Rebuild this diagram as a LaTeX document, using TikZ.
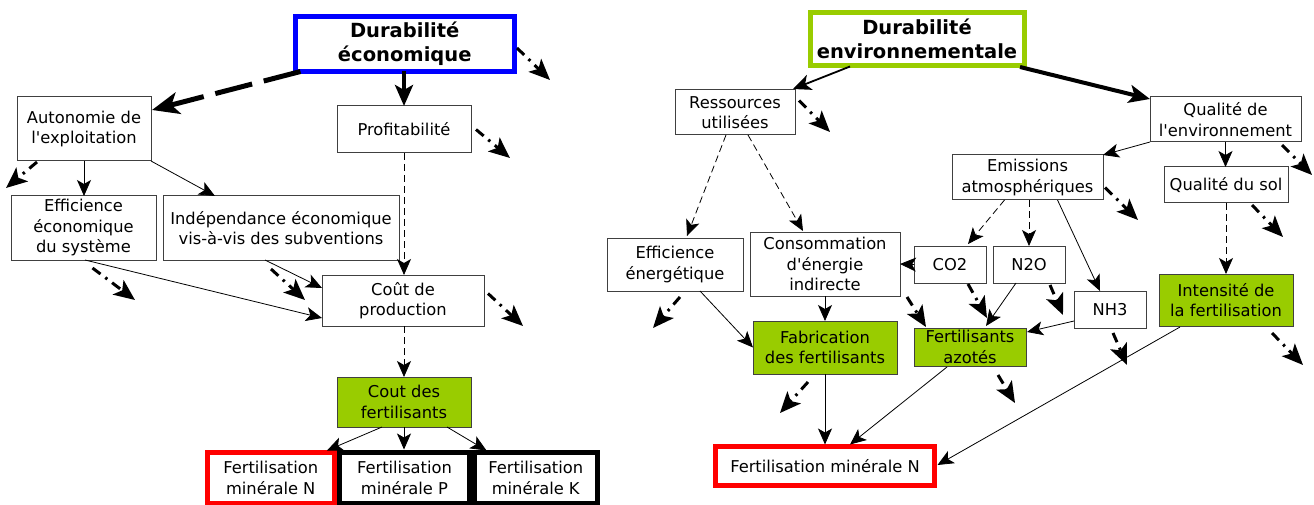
\documentclass[tikz,border=0pt]{standalone}
\usepackage{fontspec}
\usetikzlibrary{arrows.meta,calc}
\newfontfamily\bxfont{DejaVu Sans}
\definecolor{fgreen}{RGB}{153,204,0}
\tikzset{
  box/.style={draw=black!75, line width=1pt, fill=white, inner sep=0pt, outer sep=0pt, align=center, text=black,
    font=\bxfont\fontsize{16.3}{20.5}\selectfont},
  gbox/.style={box, fill=fgreen},
  titlebox/.style={box, line width=5pt, font=\bxfont\bfseries\fontsize{19.5}{24}\selectfont},
  heavybox/.style={box, line width=5pt, draw=black},
  arr/.style={-{Stealth[length=16pt,width=14pt,inset=4pt]}, line width=0.8pt, draw=black},
  medarr/.style={-{Stealth[length=18pt,width=16pt,inset=5pt]}, line width=1.8pt, draw=black},
  thickarr/.style={-{Stealth[length=21pt,width=18pt,inset=5pt]}, line width=4pt, draw=black},
  darr/.style={arr, dash pattern=on 7pt off 4pt},
  thickdash/.style={-{Stealth[length=27pt,width=22pt,inset=7pt]}, line width=5pt, dash pattern=on 38pt off 12pt},
  dd/.style={-{Stealth[length=21pt,width=18pt,inset=5pt]}, line width=3pt, dash pattern=on 10pt off 6pt on 2.5pt off 6pt},
}
\begin{document}
\begin{tikzpicture}[x=1pt,y=-1pt]
\useasboundingbox (0,0) rectangle (1314,505);
% ---------- left diagram ----------
\node[titlebox, draw=blue, minimum width=218.5pt, minimum height=55pt] (de) at (404.75,44) {Durabilité\\économique};
\node[box, minimum width=134pt, minimum height=64pt] (auto) at (84,129) {Autonomie de\\l'exploitation};
\node[box, minimum width=134pt, minimum height=47pt] (prof) at (404,129.5) {Profitabilité};
\node[box, minimum width=145pt, minimum height=64pt] (effeco) at (83.5,228) {Efficience\\économique\\du système};
\node[box, minimum width=236pt, minimum height=64pt] (indep) at (281,228) {Indépendance économique\\vis-à-vis des subventions};
\node[box, minimum width=162pt, minimum height=51pt] (cout) at (403,300.5) {Coût de\\production};
\node[gbox, minimum width=134pt, minimum height=50pt] (cfert) at (404,402) {Cout des\\fertilisants};
\node[heavybox, draw=red, minimum width=126.5pt, minimum height=50.5pt] (fN) at (270.75,477.75) {Fertilisation\\minérale N};
\node[heavybox, minimum width=130pt, minimum height=50.5pt] (fP) at (404.5,477.75) {Fertilisation\\minérale P};
\node[heavybox, minimum width=122.5pt, minimum height=50.5pt] (fK) at (535.75,477.75) {Fertilisation\\minérale K};
% ---------- right diagram ----------
\node[titlebox, draw=fgreen, minimum width=214pt, minimum height=53pt] (denv) at (917,39) {Durabilité\\environnementale};
\node[box, minimum width=120pt, minimum height=45pt] (res) at (735,112.5) {Ressources\\utilisées};
\node[box, minimum width=151pt, minimum height=45pt] (qenv) at (1225.5,119.5) {Qualité de\\l'environnement};
\node[box, minimum width=151pt, minimum height=45pt] (emis) at (1027.5,177.5) {Emissions\\atmosphériques};
\node[box, minimum width=124pt, minimum height=36pt] (qsol) at (1226,185) {Qualité du sol};
\node[box, minimum width=136pt, minimum height=53pt] (effen) at (675,264.5) {Efficience\\énergétique};
\node[box, minimum width=150pt, minimum height=64pt] (conso) at (825,264) {Consommation\\d'énergie\\indirecte};
\node[box, minimum width=72pt, minimum height=37pt] (co2) at (950,264.5) {CO2};
\node[box, minimum width=72pt, minimum height=37pt] (n2o) at (1029,264.5) {N2O};
\node[box, minimum width=72pt, minimum height=37pt] (nh3) at (1110,309.5) {NH3};
\node[gbox, minimum width=134pt, minimum height=52pt] (intens) at (1226,300) {Intensité de\\la fertilisation};
\node[gbox, minimum width=144pt, minimum height=53pt] (fab) at (825,347.5) {Fabrication\\des fertilisants};
\node[gbox, minimum width=112pt, minimum height=38pt] (fazote) at (970,347) {Fertilisants\\azotés};
\node[heavybox, draw=red, minimum width=219pt, minimum height=39pt] (fN2) at (825,466) {Fertilisation minérale N};
% free ends
\coordinate (e1) at (550,80);
\coordinate (e2) at (510,158);
\coordinate (e3) at (6,188);
\coordinate (e4) at (135,300);
\coordinate (e5) at (305,300);
\coordinate (e6) at (523,326);
\coordinate (e7) at (830,132);
\coordinate (e8) at (1312,175);
\coordinate (e9) at (1138,220);
\coordinate (e10) at (1283,237);
\coordinate (e11) at (987,318);
\coordinate (e12) at (1063,315);
\coordinate (e13) at (1127,365);
\coordinate (e14) at (1303,365);
\coordinate (e15) at (653,328);
\coordinate (e16) at (780,413);
\coordinate (e17) at (1015,403);
% ---------- left connectors ----------
\draw[thickdash] ($(de.south west)+(5,0)$) -- ($(auto.north east)+(1,13)$);
\draw[thickarr] (prof.north |- de.south) -- (prof.north);
\draw[dd] ($(de.east)+(3,4)$) -- (e1);
\draw[dd] ($(prof.east)+(5,0)$) -- (e2);
\draw[dd] ($(auto.south west)+(20,1)$) -- (e3);
\draw[arr] (auto.south) -- (auto.south |- effeco.north);
\draw[arr] (auto.south east) -- ($(indep.north west)+(52,0)$);
\draw[darr] (prof.south) -- (prof.south |- cout.north);
\draw[arr] ($(effeco.south)+(1.5,0)$) -- ($(cout.south west)+(0,-8)$);
\draw[dd] ($(effeco.south)+(9,8)$) -- (e4);
\draw[arr] ($(indep.south)+(-16,0)$) -- ($(cout.north west)+(0,13)$);
\draw[dd] ($(indep.south)+(-10,9)$) -- (e5);
\draw[dd] ($(cout.east)+(4,-7)$) -- (e6);
\draw[darr] (cfert.north |- cout.south) -- (cfert.north);
\draw[arr] ($(cfert.south)+(-22,0)$) -- ($(fN.north east)+(-7,-2)$);
\draw[arr] (cfert.south) -- ($(cfert.south |- fP.north)+(0,-3)$);
\draw[arr] ($(cfert.south)+(43,0)$) -- ($(fK.north west)+(12,-2)$);
% ---------- right connectors ----------
\draw[medarr] ($(denv.south west)+(40,1)$) -- ($(res.north east)+(-2,-1)$);
\draw[thickarr] ($(denv.south east)+(-4,1.5)$) -- ($(qenv.north west)+(0,2)$);
\draw[dd] ($(res.east)+(4,-12)$) -- (e7);
\draw[darr] ($(res.south)+(-9,0)$) -- ($(effen.north)+(12,-2)$);
\draw[darr] ($(res.south)+(13,0)$) -- ($(conso.north)+(-22,-1)$);
\draw[arr] (qenv.south west) -- (emis.north east);
\draw[arr] (qenv.south) -- (qenv.south |- qsol.north);
\draw[dd] ($(qenv.south east)+(-19,3)$) -- (e8);
\draw[dd] ($(emis.east)+(2,10)$) -- (e9);
\draw[darr] ($(emis.south)+(-23,0)$) -- ($(co2.north)+(18,-2)$);
\draw[darr] (n2o.north |- emis.south) -- (n2o.north);
\draw[arr] ($(emis.south)+(30,0)$) -- ($(nh3.north)+(-10,0)$);
\draw[darr] (qsol.south) -- (qsol.south |- intens.north);
\draw[dd] ($(qsol.south)+(26,2)$) -- (e10);
\draw[arr] (co2.west) -- (conso.east);
\draw[dd] ($(co2.south)+(18,1)$) -- (e11);
\draw[arr] ($(n2o.south)+(-13,0)$) -- ($(fazote.north)+(16,-2)$);
\draw[dd] ($(n2o.south)+(21,2)$) -- (e12);
\draw[arr] ($(nh3.west)+(0,11.5)$) -- ($(fazote.east)+(1,-15)$);
\draw[dd] ($(nh3.south)+(3,5)$) -- (e13);
\draw[arr] ($(intens.south west)+(21,1)$) -- ($(fN2.east)+(3,-1)$);
\draw[dd] ($(intens.south east)+(-21,7)$) -- (e14);
\draw[arr] ($(effen.south)+(25,0)$) -- (fab.west);
\draw[dd] ($(effen.south)+(5,6)$) -- (e15);
\draw[arr] (conso.south) -- (conso.south |- fab.north);
\draw[dd] ($(conso.south east)+(7,1)$) -- ($(fazote.north west)+(12,-1)$);
\draw[arr] (fab.south) -- ($(fab.south |- fN2.north)+(0,-2)$);
\draw[dd] ($(fab.south)+(-17,8)$) -- (e16);
\draw[arr] ($(fazote.south)+(-23,1)$) -- ($(fN2.north)+(25,-2)$);
\draw[dd] ($(fazote.south)+(28,9)$) -- (e17);
\end{tikzpicture}
\end{document}
